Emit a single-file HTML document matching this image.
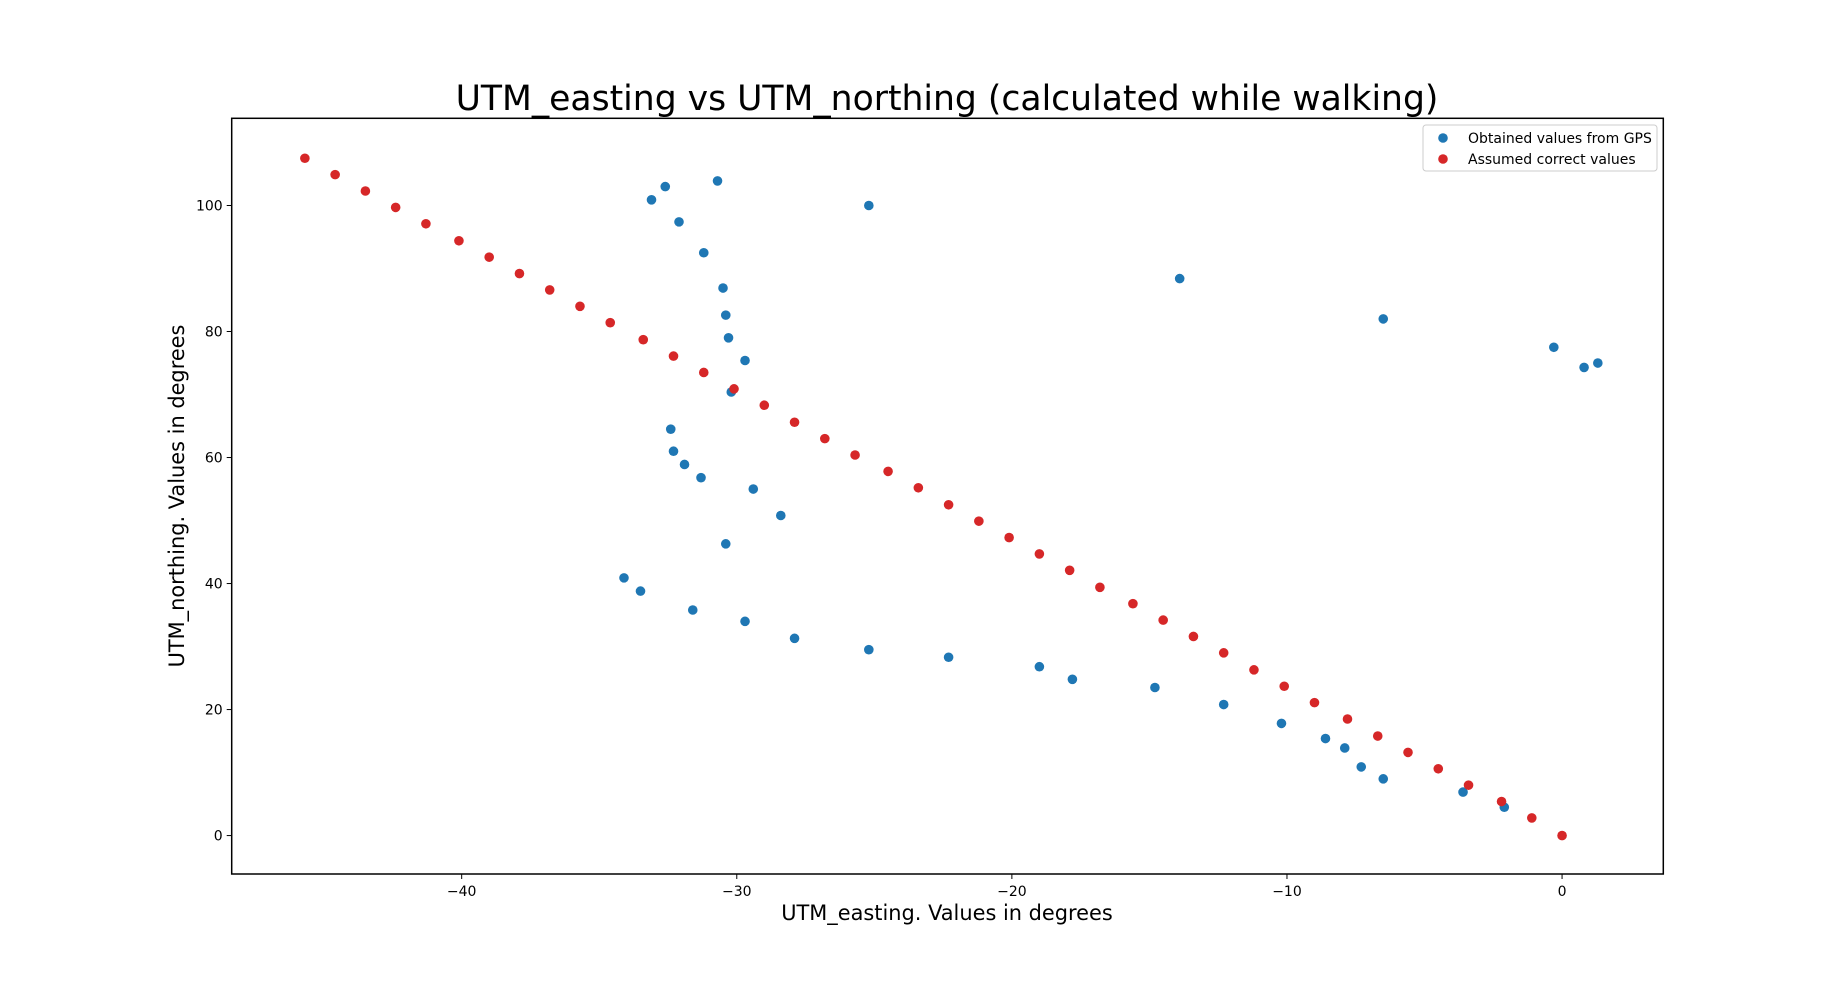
<!DOCTYPE html>
<html><head><meta charset="utf-8"><style>
html,body{margin:0;padding:0;background:#fff;}
svg{display:block;font-family:"DejaVu Sans","Liberation Sans",sans-serif;}
</style></head><body>
<svg id="chart" width="1848" height="982" viewBox="0 0 1848 982">
<rect width="1848" height="982" fill="#fff"/>
<text x="947" y="110" font-size="34.6" text-anchor="middle">UTM_easting vs UTM_northing (calculated while walking)</text>
<g id="marks"></g>
<g id="axes"></g>
<rect x="231.7" y="118.3" width="1431.6" height="755.7" fill="none" stroke="#000" stroke-width="1.5"/>
<text x="947" y="920" font-size="20.9" text-anchor="middle">UTM_easting. Values in degrees</text>
<text x="0" y="0" font-size="20.9" text-anchor="middle" transform="translate(184,496) rotate(-90)">UTM_northing. Values in degrees</text>
<g>
<rect x="1423" y="125" width="234" height="46" rx="3" fill="#fff" stroke="#ccc" stroke-width="1"/>
<circle cx="1443" cy="138" r="4.8" fill="#1f77b4"/>
<text x="1468" y="143" font-size="14">Obtained values from GPS</text>
<circle cx="1443" cy="159" r="4.8" fill="#d62728"/>
<text x="1468" y="164" font-size="14">Assumed correct values</text>
</g>
</svg>
<script>
const xTicks=[-40,-30,-20,-10,0];
const yTicks=[0,20,40,60,80,100];
const gpsX=[-33.1,-32.6,-30.7,-25.2,-32.1,-31.2,-30.5,-30.4,-30.3,-29.7,-30.2,-32.4,-32.3,-31.9,-31.3,-29.4,-28.4,-30.4,-34.1,-33.5,-31.6,-29.7,-27.9,-25.2,-22.3,-19.0,-17.8,-14.8,-13.9,-12.3,-10.2,-8.6,-7.9,-7.3,-6.5,-6.5,-3.6,-2.1,-0.3,0.8,1.3];
const gpsY=[100.9,103.0,103.9,100.0,97.4,92.5,86.9,82.6,79.0,75.4,70.4,64.5,61.0,58.9,56.8,55.0,50.8,46.3,40.9,38.8,35.8,34.0,31.3,29.5,28.3,26.8,24.8,23.5,88.4,20.8,17.8,15.4,13.9,10.9,9.0,82.0,6.9,4.5,77.5,74.3,75.0];
const corrX=[-45.7,-44.6,-43.5,-42.4,-41.3,-40.1,-39.0,-37.9,-36.8,-35.7,-34.6,-33.4,-32.3,-31.2,-30.1,-29.0,-27.9,-26.8,-25.7,-24.5,-23.4,-22.3,-21.2,-20.1,-19.0,-17.9,-16.8,-15.6,-14.5,-13.4,-12.3,-11.2,-10.1,-9.0,-7.8,-6.7,-5.6,-4.5,-3.4,-2.2,-1.1,0];
const corrY=[107.5,104.9,102.3,99.7,97.1,94.4,91.8,89.2,86.6,84.0,81.4,78.7,76.1,73.5,70.9,68.3,65.6,63.0,60.4,57.8,55.2,52.5,49.9,47.3,44.7,42.1,39.4,36.8,34.2,31.6,29.0,26.3,23.7,21.1,18.5,15.8,13.2,10.6,8.0,5.4,2.8,0];
const L=231.7,R=1663.3,T=118.3,B=874;
const xMin=-48.36,xMax=3.68,yMin=-6.1,yMax=113.84;
function sx(v){return L+(v-xMin)/(xMax-xMin)*(R-L);}
function sy(v){return B-(v-yMin)/(yMax-yMin)*(B-T);}
const NS='http://www.w3.org/2000/svg';
const marks=document.getElementById('marks');
const axes=document.getElementById('axes');
function dot(x,y,c,name){
  const e=document.createElementNS(NS,'circle');
  e.setAttribute('cx',sx(x));e.setAttribute('cy',sy(y));e.setAttribute('r',4.8);
  e.setAttribute('fill',c);
  
  
  marks.appendChild(e);
}
gpsX.forEach((x,i)=>dot(x,gpsY[i],'#1f77b4','gps-point'));
corrX.forEach((x,i)=>dot(x,corrY[i],'#d62728','correct-point'));
xTicks.forEach(v=>{
  const l=document.createElementNS(NS,'line');
  l.setAttribute('x1',sx(v));l.setAttribute('x2',sx(v));l.setAttribute('y1',B);l.setAttribute('y2',B+5);
  l.setAttribute('stroke','#000');
  
  
  axes.appendChild(l);
  const t=document.createElementNS(NS,'text');
  t.setAttribute('x',sx(v));t.setAttribute('y',B+22);t.setAttribute('font-size','14');t.setAttribute('text-anchor','middle');
  t.textContent=v<0?'\u2212'+Math.abs(v):String(v);
  
  
  axes.appendChild(t);
});
yTicks.forEach(v=>{
  const l=document.createElementNS(NS,'line');
  l.setAttribute('x1',L-5);l.setAttribute('x2',L);l.setAttribute('y1',sy(v));l.setAttribute('y2',sy(v));
  l.setAttribute('stroke','#000');
  
  
  axes.appendChild(l);
  const t=document.createElementNS(NS,'text');
  t.setAttribute('x',L-9);t.setAttribute('y',sy(v)+5);t.setAttribute('font-size','14');t.setAttribute('text-anchor','end');
  t.textContent=String(v);
  
  
  axes.appendChild(t);
});
</script>
</body></html>
